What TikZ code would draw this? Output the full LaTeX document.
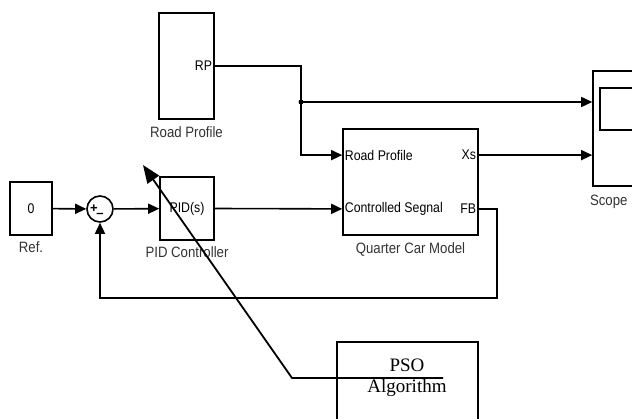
\documentclass[tikz,border=0pt]{standalone}
\usepackage{fontspec}
\setmainfont{Liberation Sans}
\newfontfamily\simfont[FakeStretch=0.88]{Liberation Sans}
\newfontfamily\psofont{Liberation Serif}
\usetikzlibrary{arrows.meta,positioning,calc}
\tikzset{
  simblock/.style={draw, line width=1.6pt, inner sep=0pt},
  simsum/.style={draw, circle, line width=1.6pt, minimum size=26pt, inner sep=0pt},
  simwire/.style={line width=1.6pt},
  simarrow/.style={-{Triangle[length=11pt,width=10pt]}, line width=1.6pt},
  simlabel/.style={font=\simfont\fontsize{15}{17}\selectfont, text=black!80},
  simport/.style={font=\simfont\fontsize{14}{16}\selectfont, inner sep=2.5pt},
  simsign/.style={font=\fontsize{13}{13}\selectfont\bfseries, inner sep=0pt},
  tunearrow/.style={-{Triangle[length=18pt,width=14pt]}, line width=1.8pt},
  psobox/.style={draw, line width=1.6pt},
  psotext/.style={font=\psofont\fontsize{19}{21}\selectfont, align=center, inner sep=0pt}
}
\begin{document}
\begin{tikzpicture}[x=1pt, y=-1pt, every node/.style={font=\simfont\fontsize{14}{16}\selectfont}]
  \useasboundingbox (0,0) rectangle (632,419);
  \clip (0,0) rectangle (632,419);

  % blocks
  \node[simblock, minimum width=42pt, minimum height=53pt,
        label={[simlabel, label distance=2pt]below:Ref.}] (ref) at (31,208.5) {0};
  \node[simsum] (sum) at (100,209) {};
  \node[simsign] (plus) at ($(sum.center)+(-6,0)$) {+};
  \node[simsign] (minus) at ($(sum.center)+(0,6)$) {--};
  \node[simblock, minimum width=54pt, minimum height=63pt,
        label={[simlabel, label distance=2pt]below:PID Controller}] (pid) at (187,208.5) {PID(s)};
  \node[simblock, minimum width=55pt, minimum height=106pt,
        label={[simlabel, label distance=3pt]below:Road Profile}] (road) at (186.5,66) {};
  \node[simport, anchor=east] (rplbl) at (road.east) {RP};
  \node[simblock, minimum width=135pt, minimum height=106pt,
        label={[simlabel, label distance=3pt]below:Quarter Car Model}] (quarter) at (410.5,182) {};
  \node[simblock, minimum width=48pt, minimum height=115pt] (scope) at (617,128.5) {};
  \node[simblock, minimum width=34pt, minimum height=42pt] (screen) at (617,109) {};
  \node[simlabel, anchor=north east] (scopelbl) at ($(scope.south)+(14,5)$) {Scope};
  \node[psobox, minimum width=141pt, minimum height=100pt] (pso) at (407.5,392) {};
  \node[psotext] (psolbl) at (407,377.5) {PSO\\Algorithm};

  % ports of the quarter car model
  \coordinate (qin1) at ($(quarter.north west)!0.25!(quarter.south west)$);
  \coordinate (qin2) at ($(quarter.north west)!0.75!(quarter.south west)$);
  \coordinate (qout1) at ($(quarter.north east)!0.25!(quarter.south east)$);
  \coordinate (qout2) at ($(quarter.north east)!0.75!(quarter.south east)$);
  \node[simport, anchor=west] (qin1lbl) at (qin1) {Road Profile};
  \node[simport, anchor=west] (qin2lbl) at (qin2) {Controlled Segnal};
  \node[simport, anchor=east] (qout1lbl) at (qout1) {Xs};
  \node[simport, anchor=east] (qout2lbl) at (qout2) {FB};

  \coordinate (junc) at (301,102);
  \coordinate (fbcorner) at (497,298);
  \coordinate (tunestart) at (443,378);
  \coordinate (tunebend) at (292,378);
  \coordinate (tunetip) at (143,165);

  % wires
  \draw[simarrow] (ref) -- (sum);
  \draw[simarrow] (sum) -- (pid);
  \draw[simarrow] (pid.east) -- (qin2);
  \draw[simarrow] (road.east) -| (junc) |- (qin1);
  \fill (junc) circle (2.5pt);
  \draw[simarrow] (junc) -- (junc -| scope.west);
  \draw[simarrow] (qout1) -- (qout1 -| scope.west);
  \draw[simarrow] (qout2) -| (fbcorner) -| (sum.south);
  \draw[tunearrow] (tunestart) -- (tunebend) -- (tunetip);
\end{tikzpicture}
\end{document}
